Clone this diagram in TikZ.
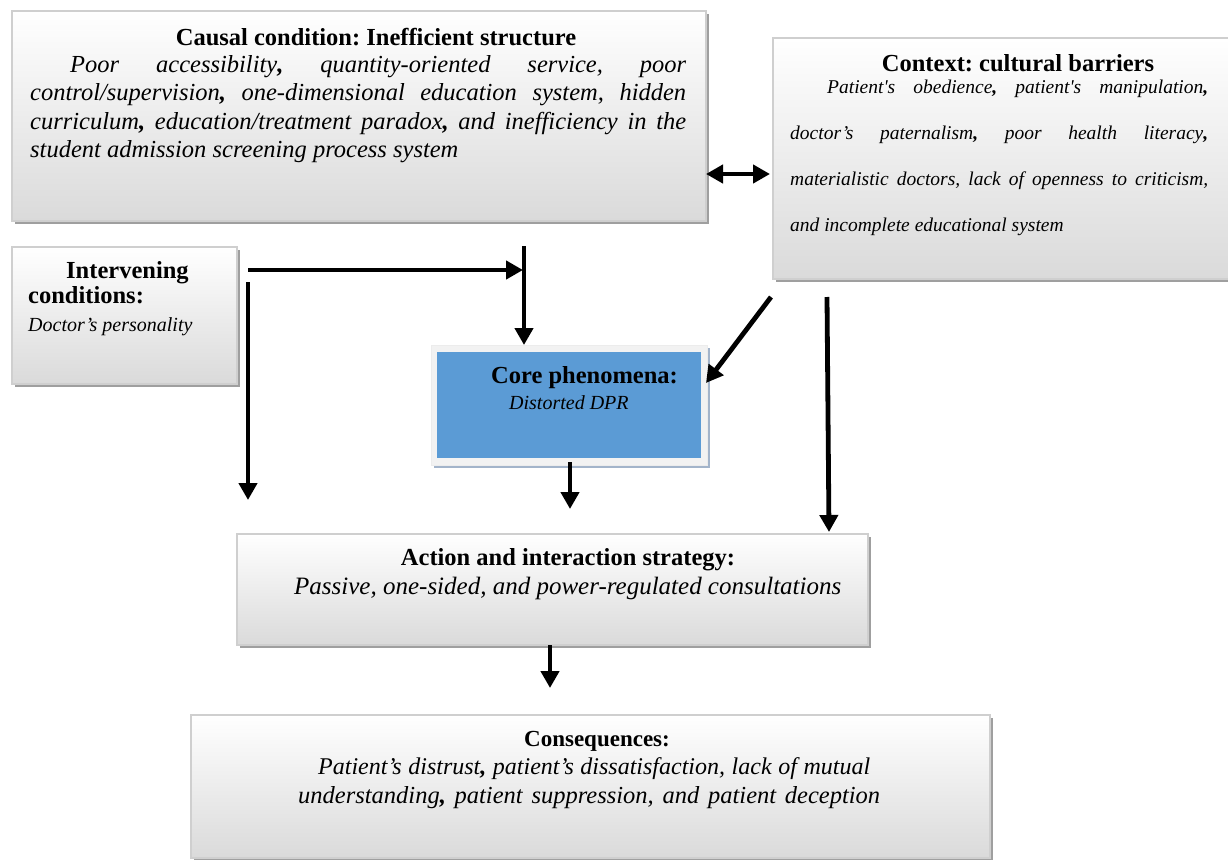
\documentclass[tikz,border=0pt]{standalone}
\usepackage{fontspec}
\setmainfont{Liberation Serif}
\usetikzlibrary{arrows.meta,shadows,calc}
\definecolor{coreblue}{HTML}{5B9BD5}
\definecolor{coreshadow}{HTML}{A3B4CA}
\definecolor{boxedge}{HTML}{CFCFCF}
\definecolor{boxbottom}{HTML}{DADADA}
\frenchspacing
\begin{document}
\frenchspacing
\begin{tikzpicture}[x=1pt,y=-1pt,
  box/.style={draw=boxedge,line width=1.6pt,top color=white,bottom color=boxbottom,
    drop shadow={shadow xshift=3pt,shadow yshift=-3pt,fill=gray!75,opacity=1},
    anchor=north west,inner sep=0pt},
  corebox/.style={draw=gray!15,line width=0.8pt,fill=gray!10,
    drop shadow={shadow xshift=3pt,shadow yshift=-3pt,fill=coreshadow,opacity=1},
    anchor=north west,inner sep=0pt},
  titletext/.style={font=\fontsize{24.5}{28}\selectfont\bfseries,inner sep=0pt},
  bodytext/.style={inner sep=0pt,anchor=north west,align=left},
  arr/.style={line width=4.8pt,-{Triangle[width=18pt,length=17pt]}},
  darr/.style={line width=4.8pt,{Triangle[width=18pt,length=17pt]}-{Triangle[width=18pt,length=17pt]}}
]
\useasboundingbox (0,0) rectangle (1228,859);

% boxes
\node[box,minimum width=694pt,minimum height=210pt] (causal) at (11,10) {};
\node[box,minimum width=470pt,minimum height=241pt] (context) at (772,37) {};
\node[box,minimum width=225pt,minimum height=137pt] (interv) at (11,246) {};
\node[corebox,minimum width=276pt,minimum height=120pt] (coreout) at (431,345) {};
\node[fill=coreblue,anchor=north west,inner sep=0pt,minimum width=264pt,minimum height=106pt] (core) at (437,352) {};
\node[box,minimum width=631pt,minimum height=111pt] (action) at (236,533) {};
\node[box,minimum width=799pt,minimum height=143pt] (conseq) at (190,714) {};

% texts
\node[titletext] (causalT) at (376,37) {Causal condition: Inefficient structure};
\node[bodytext,font=\fontsize{24.5}{28.5}\selectfont\itshape] (causalB) at (30,55)
 {\hspace*{40pt}\makebox[616pt][s]{Poor accessibility\textbf{,} quantity-oriented service, poor}\\
 \makebox[656pt][s]{control/supervision\textbf{,} one-dimensional education system, hidden}\\
 \makebox[656pt][s]{curriculum\textbf{,} education/treatment paradox\textbf{,} and inefficiency in the}\\
 student admission screening process system};

\node[titletext] (contextT) at (1018,63) {Context: cultural barriers};
\node[bodytext,font=\fontsize{19.5}{46}\selectfont\itshape] (contextB) at (790,80)
 {\hspace*{37pt}\makebox[381pt][s]{Patient\textquotesingle s obedience\textbf{,} patient\textquotesingle s manipulation\textbf{,}}\\
 \makebox[418pt][s]{doctor’s paternalism\textbf{,} poor health literacy\textbf{,}}\\
 \makebox[418pt][s]{materialistic doctors, lack of openness to criticism,}\\
 and incomplete educational system};

\node[bodytext,font=\fontsize{24.5}{25}\selectfont\bfseries] (intervT) at (28,261)
 {\hspace*{38pt}Intervening\\conditions:};
\node[inner sep=0pt,anchor=west,font=\fontsize{20}{22}\selectfont\itshape] (intervB) at (28,327) {Doctor’s personality};

\node[titletext,anchor=west] (coreT) at (491,378) {Core phenomena:};
\node[inner sep=0pt,anchor=west,font=\fontsize{20}{22}\selectfont\itshape] (coreB) at (509,403) {Distorted DPR};

\node[titletext] (actionT) at (568,560) {Action and interaction strategy:};
\node[inner sep=0pt,anchor=west,font=\fontsize{25}{28}\selectfont\itshape] (actionB) at (294,588)
 {Passive, one-sided, and power-regulated consultations};

\node[titletext,font=\fontsize{23}{26}\selectfont\bfseries] (conseqT) at (597,741) {Consequences:};
\node[inner sep=0pt,anchor=west,font=\fontsize{24}{28}\selectfont\itshape] (conseqB1) at (318,769)
 {\makebox[552pt][s]{Patient’s distrust\textbf{,} patient’s dissatisfaction, lack of mutual}};
\node[inner sep=0pt,anchor=west,font=\fontsize{24.5}{28}\selectfont\itshape] (conseqB2) at (298,798)
 {\makebox[582pt][s]{understanding\textbf{,} patient suppression, and patient deception}};

% connector end points
\coordinate (dA) at (706,174);
\coordinate (dB) at (770,174);
\coordinate (hS) at (248,270);
\coordinate (hE) at (523,270);
\coordinate (vS) at (524,246);
\coordinate (lS) at (248,282);
\coordinate (lE) at (248,500);
\coordinate (gS) at (771,297);
\coordinate (gE) at (706,383);
\coordinate (rS) at (827,297);
\coordinate (rE) at (829,532);
\coordinate (cS) at (570,462);
\coordinate (cE) at (570,509);
\coordinate (aS) at (550,645);
\coordinate (aE) at (550,688);

% connectors
\draw[darr] (dA) -- (dB);
\draw[arr] (hS) -- (hE);
\draw[arr] (vS) -- (vS |- coreout.north);
\draw[arr] (lS) -- (lE);
\draw[arr] (gS) -- (gE);
\draw[arr] (rS) -- (rE);
\draw[arr] (cS) -- (cE);
\draw[arr] (aS) -- (aE);
\end{tikzpicture}
\end{document}
